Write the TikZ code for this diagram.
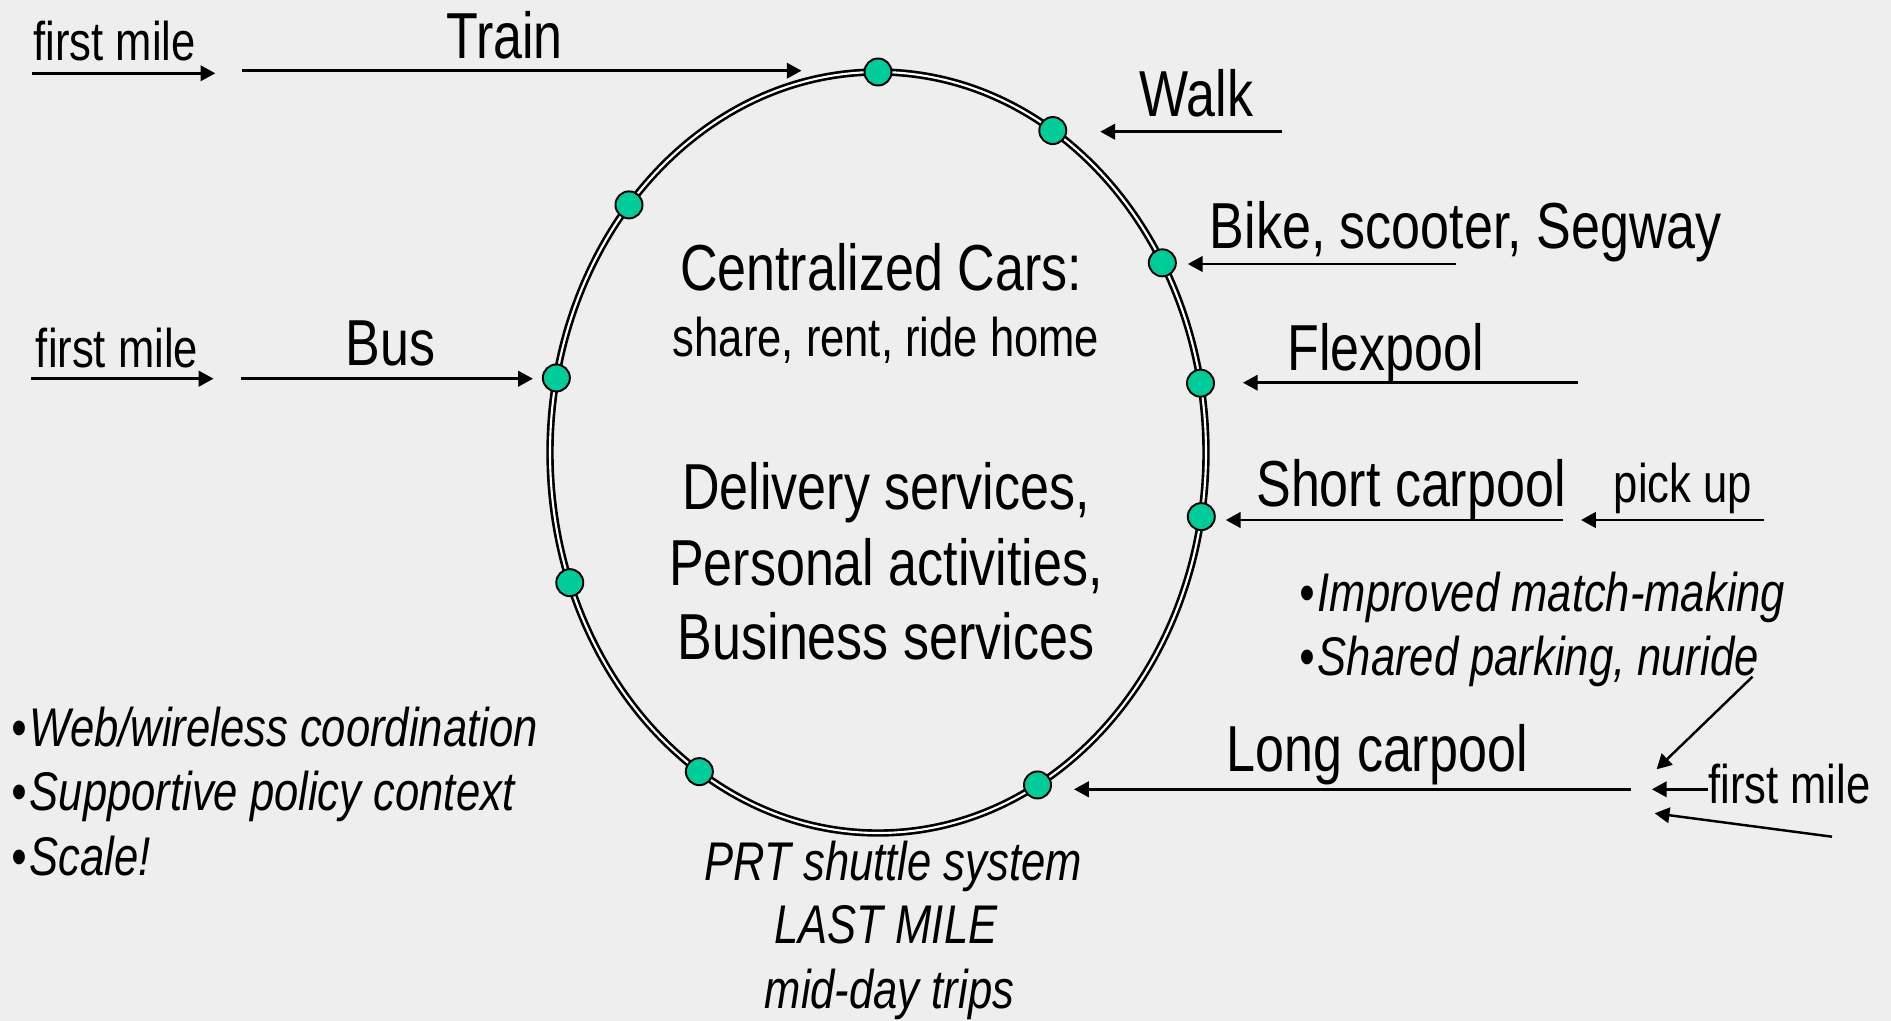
\documentclass[tikz,border=0pt]{standalone}
\usepackage{fontspec}
\setmainfont[FakeStretch=0.8]{Liberation Sans}
\usetikzlibrary{arrows.meta}

\definecolor{slide}{RGB}{238,238,238}
\definecolor{stopgreen}{RGB}{0,204,153}

\tikzstyle{stop}=[draw=black, fill=stopgreen, circle, line width=0.55pt, minimum size=2.7mm, inner sep=0pt]
\tikzstyle{link}=[line width=0.7pt, -{Triangle[length=4.2pt,width=4.4pt]}]
\tikzstyle{big}=[font=\fontsize{18.5}{22}\selectfont, inner sep=0pt, anchor=base]
\tikzstyle{small}=[font=\fontsize{15.5}{18}\selectfont, inner sep=0pt, anchor=base]
\tikzstyle{note}=[font=\fontsize{15.5}{18}\selectfont\itshape, inner sep=0pt, anchor=base west]

\begin{document}
\begin{tikzpicture}[x=0.1mm, y=-0.1mm]

\fill[slide] (0,0) rectangle (1891,1021);

\coordinate (c) at (878,452.5);
\draw[line width=0.75pt, double=white, double distance=0.6pt] (c) ellipse (328 and 380.5);

\path (c) ++(-90:328 and 380.5) node[stop] (top) {};
\path (c) ++(-57.8:328 and 380.5) node[stop] (walk) {};
\path (c) ++(-139.4:328 and 380.5) node[stop] (upleft) {};
\path (c) ++(-29.9:328 and 380.5) node[stop] (bike) {};
\path (c) ++(-10.5:328 and 380.5) node[stop] (flex) {};
\path (c) ++(-168.7:328 and 380.5) node[stop] (bus) {};
\path (c) ++(9.7:328 and 380.5) node[stop] (short) {};
\path (c) ++(160:328 and 380.5) node[stop] (lowleft) {};
\path (c) ++(123:328 and 380.5) node[stop] (prt) {};
\path (c) ++(60.9:328 and 380.5) node[stop] (long) {};

\node[big] (cars) at (881,290) {Centralized Cars:};
\node[small] (share) at (886,356) {share, rent, ride home};
\node[big] (delivery) at (886,509) {Delivery services,};
\node[big] (personal) at (886,585) {Personal activities,};
\node[big] (business) at (886,659.3) {Business services};

\node[small] (mile1) at (114.7,60.7) {first mile};
\coordinate (mile1from) at (31.6,73.3);
\coordinate (mile1to) at (215.3,73.3);
\draw[link] (mile1from) -- (mile1to);

\node[big] (train) at (504.6,58.3) {Train};
\coordinate (trainfrom) at (242.3,70.7);
\draw[link] (trainfrom) -- ([xshift=-6.2mm]top.west |- trainfrom);

\node[small] (mile2) at (117,367.7) {first mile};
\coordinate (mile2from) at (31,378.7);
\coordinate (mile2to) at (213.5,378.7);
\draw[link] (mile2from) -- (mile2to);

\node[big] (bustext) at (390.4,365) {Bus};
\coordinate (busfrom) at (241,378.7);
\draw[link] (busfrom) -- ([xshift=-0.9mm]bus.west |- busfrom);

\node[big] (walktext) at (1196.5,116) {Walk};
\coordinate (walkfrom) at (1282.4,131.7);
\draw[link] (walkfrom) -- ([xshift=3.3mm]walk.east |- walkfrom);

\node[big] (biketext) at (1465.8,248.3) {Bike, scooter, Segway};
\coordinate (bikefrom) at (1456.3,264);
\draw[link] (bikefrom) -- ([xshift=1.1mm]bike.east |- bikefrom);

\node[big] (flextext) at (1385.8,370) {Flexpool};
\coordinate (flexfrom) at (1578.3,382.7);
\draw[link] (flexfrom) -- ([xshift=2.8mm]flex.east |- flexfrom);

\node[big] (shorttext) at (1411,506) {Short carpool};
\coordinate (shortfrom) at (1562.6,520);
\draw[link] (shortfrom) -- ([xshift=1.0mm]short.east |- shortfrom);

\node[small] (pickup) at (1683,502) {pick up};
\coordinate (pickfrom) at (1764.4,520);
\coordinate (pickto) at (1581,520);
\draw[link] (pickfrom) -- (pickto);

\node[note] (matching) at (1299,611.7) {•\kern0.8pt Improved match-making};
\node[note] (parking) at (1299,675) {•\kern0.8pt Shared parking, nuride};

\node[big] (longtext) at (1377.3,771.7) {Long carpool};
\coordinate (longfrom) at (1631,789.3);
\draw[link] (longfrom) -- ([xshift=2.2mm]long.east |- longfrom);

\node[small, anchor=base west] (mile3) at (1707.7,803.3) {first mile};
\coordinate (mile3to) at (1651.9,789.3);
\draw[link] (mile3.west |- mile3to) -- (mile3to);
\coordinate (nuridefrom) at (1752.5,676.7);
\coordinate (nurideto) at (1656.6,769.3);
\draw[link] (nuridefrom) -- (nurideto);
\coordinate (lowfrom) at (1832,836.7);
\coordinate (lowto) at (1654.7,813.3);
\draw[link] (lowfrom) -- (lowto);

\node[note] (web) at (11,746.7) {•\kern0.8pt Web/wireless coordination};
\node[note] (policy) at (11,810.7) {•\kern0.8pt Supportive policy context};
\node[note] (scale) at (11,875) {•\kern0.8pt Scale!};

\node[note, anchor=base] (shuttle) at (893.3,880) {PRT shuttle system};
\node[note, anchor=base] (lastmile) at (886,943.3) {LAST MILE};
\node[note, anchor=base] (midday) at (889.5,1008) {mid-day trips};

\end{tikzpicture}
\end{document}
